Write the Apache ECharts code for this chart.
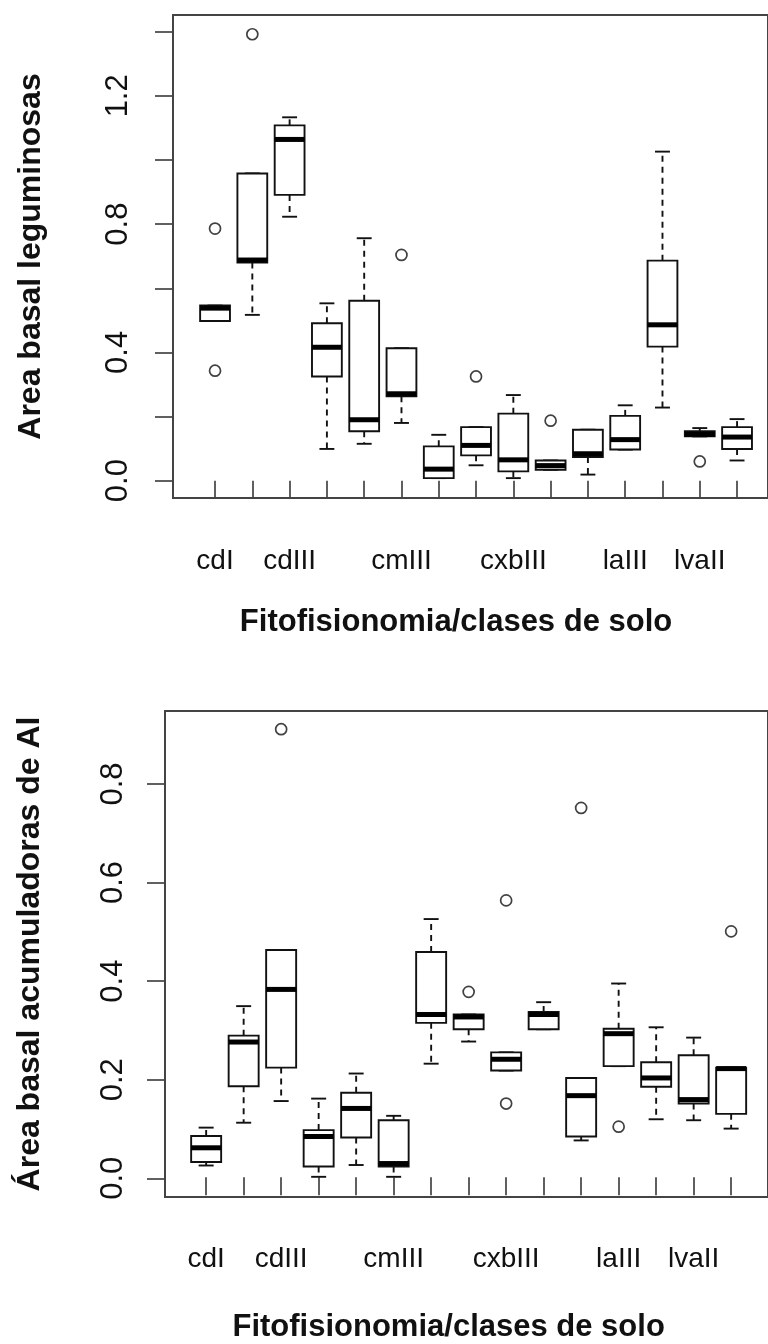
<!DOCTYPE html>
<html>
<head>
<meta charset="utf-8">
<script src="https://cdn.jsdelivr.net/npm/echarts@6/dist/echarts.min.js"></script>
<style>
  html, body { margin: 0; padding: 0; background: #ffffff; }
  #chart { width: 768px; height: 1344px; }
</style>
</head>
<body>
<div id="chart"></div>
<script>
// Vegetation type / soil class groups (x axis)
const categories = ['cdI', 'cdII', 'cdIII', 'cmI', 'cmII', 'cmIII', 'cxbI', 'cxbII', 'cxbIII',
                    'laI', 'laII', 'laIII', 'lvaI', 'lvaII', 'lvaIII'];
// group names that get a printed label under their tick
const labelledCategories = ['cdI', 'cdIII', 'cmIII', 'cxbIII', 'laIII', 'lvaII'];

// Basal area of legumes: [lower whisker, Q1, median, Q3, upper whisker] per group
const leguminosasStats = [
  [0.498, 0.498, 0.538, 0.546, 0.546],
  [0.517, 0.680, 0.688, 0.958, 0.958],
  [0.823, 0.891, 1.064, 1.108, 1.133],
  [0.099, 0.325, 0.416, 0.491, 0.553],
  [0.115, 0.154, 0.190, 0.561, 0.756],
  [0.180, 0.263, 0.271, 0.413, 0.413],
  [0.008, 0.008, 0.036, 0.107, 0.143],
  [0.048, 0.079, 0.110, 0.167, 0.167],
  [0.008, 0.029, 0.065, 0.209, 0.267],
  [0.034, 0.034, 0.047, 0.063, 0.063],
  [0.019, 0.074, 0.084, 0.159, 0.159],
  [0.097, 0.097, 0.128, 0.202, 0.235],
  [0.228, 0.418, 0.486, 0.686, 1.026],
  [0.138, 0.138, 0.145, 0.154, 0.164],
  [0.063, 0.099, 0.136, 0.167, 0.192]
];
const leguminosasOutliers = [
  ['cdI', 0.786], ['cdI', 0.343], ['cdII', 1.392], ['cmIII', 0.704],
  ['cxbII', 0.325], ['laI', 0.187], ['lvaII', 0.060]
];

// Basal area of Al-accumulating species
const alStats = [
  [0.024, 0.031, 0.060, 0.084, 0.101],
  [0.111, 0.185, 0.275, 0.288, 0.348],
  [0.155, 0.223, 0.382, 0.462, 0.462],
  [0.001, 0.022, 0.083, 0.096, 0.160],
  [0.025, 0.081, 0.140, 0.172, 0.211],
  [0.001, 0.022, 0.028, 0.116, 0.125],
  [0.231, 0.314, 0.331, 0.458, 0.525],
  [0.276, 0.301, 0.326, 0.331, 0.331],
  [0.217, 0.217, 0.240, 0.254, 0.254],
  [0.301, 0.301, 0.331, 0.336, 0.356],
  [0.075, 0.083, 0.166, 0.202, 0.202],
  [0.226, 0.226, 0.292, 0.302, 0.394],
  [0.118, 0.184, 0.202, 0.234, 0.305],
  [0.116, 0.150, 0.158, 0.248, 0.284],
  [0.099, 0.129, 0.221, 0.223, 0.223]
];
const alOutliers = [
  ['cdIII', 0.911], ['cxbII', 0.377], ['cxbIII', 0.563], ['cxbIII', 0.150],
  ['laII', 0.751], ['laIII', 0.103], ['lvaIII', 0.500]
];

// y axis ticks and the subset that carries a label
const leguminosasTicks = [0, 0.2, 0.4, 0.6, 0.8, 1.0, 1.2, 1.4];
const leguminosasTickLabels = [0, 0.4, 0.8, 1.2];
const alTicks = [0, 0.2, 0.4, 0.6, 0.8];
const alTickLabels = [0, 0.2, 0.4, 0.6, 0.8];

const INK = '#111111';
const FRAME = '#444444';
const FONT = '"Liberation Sans", Arial, sans-serif';

// Box-and-whisker glyph: dashed whiskers with staples, white box, heavy median
function renderBox(params, api) {
  const i = api.value(0);
  const x = api.coord([i, 0])[0];
  const band = api.size([1, 0])[0];
  const half = band * 0.4;
  const staple = band * 0.2;
  const yLo = api.coord([i, api.value(1)])[1];
  const yQ1 = api.coord([i, api.value(2)])[1];
  const yMed = api.coord([i, api.value(3)])[1];
  const yQ3 = api.coord([i, api.value(4)])[1];
  const yHi = api.coord([i, api.value(5)])[1];
  const lw = 1.9;
  const children = [];
  if (yQ3 - yHi > 1) {
    children.push({ type: 'line', shape: { x1: x, y1: yQ3, x2: x, y2: yHi },
      style: { stroke: INK, lineWidth: lw, lineDash: [6, 5] } });
  }
  if (yLo - yQ1 > 1) {
    children.push({ type: 'line', shape: { x1: x, y1: yQ1, x2: x, y2: yLo },
      style: { stroke: INK, lineWidth: lw, lineDash: [6, 5] } });
  }
  children.push({ type: 'line', shape: { x1: x - staple, y1: yHi, x2: x + staple, y2: yHi },
    style: { stroke: INK, lineWidth: lw } });
  children.push({ type: 'line', shape: { x1: x - staple, y1: yLo, x2: x + staple, y2: yLo },
    style: { stroke: INK, lineWidth: lw } });
  children.push({ type: 'rect', shape: { x: x - half, y: yQ3, width: 2 * half, height: yQ1 - yQ3 },
    style: { fill: '#ffffff', stroke: INK, lineWidth: lw } });
  children.push({ type: 'line', shape: { x1: x - half, y1: yMed, x2: x + half, y2: yMed },
    style: { stroke: '#000000', lineWidth: 5 } });
  return { type: 'group', children: children };
}

function boxData(stats) {
  return categories.map((c, i) => [i].concat(stats[i]));
}

function fmt(v) { return Number(v).toFixed(1); }

function panel(frameGrid, dataGrid, range, ticks, tickLabels, yName, yNameGap, labelMargin, xNameGap, xLabelMargin) {
  const labelIdx = labelledCategories.map(c => categories.indexOf(c));
  return {
    xAxis: [
      { gridIndex: frameGrid, type: 'value', min: 0, max: 1, show: false },
      {
        gridIndex: dataGrid, type: 'category', data: categories, boundaryGap: true,
        axisLine: { show: false },
        axisTick: { show: true, alignWithLabel: true, interval: 0, length: 18,
                    lineStyle: { color: FRAME, width: 1.7 } },
        axisLabel: { interval: (idx) => labelIdx.indexOf(idx) >= 0, margin: xLabelMargin,
                     fontSize: 28, color: INK, fontFamily: FONT, hideOverlap: false },
        splitLine: { show: false },
        name: 'Fitofisionomia/clases de solo', nameLocation: 'middle', nameGap: xNameGap,
        nameTextStyle: { fontSize: 31, fontWeight: 'bold', color: INK, fontFamily: FONT,
                         padding: [0, 40, 0, 0] }
      }
    ],
    yAxis: [
      {
        gridIndex: frameGrid, type: 'value', min: range[0], max: range[1],
        axisLine: { show: false },
        axisTick: { show: true, length: 18, customValues: ticks,
                    lineStyle: { color: FRAME, width: 1.7 } },
        axisLabel: { customValues: tickLabels, formatter: fmt, rotate: 90, margin: labelMargin,
                     fontSize: 31, color: INK, fontFamily: FONT },
        splitLine: { show: false },
        name: yName, nameLocation: 'middle', nameGap: yNameGap, nameRotate: 90,
        nameTextStyle: { fontSize: 32, fontWeight: 'bold', color: INK, fontFamily: FONT }
      },
      { gridIndex: dataGrid, type: 'value', min: range[0], max: range[1], show: false }
    ]
  };
}

const upperPanel = panel(0, 1, [-0.054, 1.452], leguminosasTicks, leguminosasTickLabels,
                  'Area basal leguminosas', 126, 39, 109, 49);
const lowerPanel = panel(2, 3, [-0.038, 0.948], alTicks, alTickLabels,
                     'Área basal acumuladoras de Al', 119, 36, 116, 49);

const frameStyle = { show: true, borderColor: FRAME, borderWidth: 2, backgroundColor: 'transparent' };

const option = {
  backgroundColor: '#ffffff',
  animation: false,
  grid: [
    Object.assign({ left: 173, top: 15, width: 605, height: 483 }, frameStyle),
    { left: 196.4, top: 15, width: 559.3, height: 483 },
    Object.assign({ left: 165, top: 711, width: 608, height: 486 }, frameStyle),
    { left: 187.4, top: 711, width: 562.5, height: 486 }
  ],
  xAxis: upperPanel.xAxis.concat(lowerPanel.xAxis),
  yAxis: upperPanel.yAxis.concat(lowerPanel.yAxis),
  series: [
    { type: 'custom', name: 'leguminosas', xAxisIndex: 1, yAxisIndex: 1,
      renderItem: renderBox, data: boxData(leguminosasStats), encode: { x: 0, y: [1, 2, 3, 4, 5] } },
    { type: 'scatter', name: 'leguminosas outliers', xAxisIndex: 1, yAxisIndex: 1,
      symbol: 'circle', symbolSize: 11, data: leguminosasOutliers,
      itemStyle: { color: '#ffffff', borderColor: INK, borderWidth: 1.7 } },
    { type: 'custom', name: 'Al', xAxisIndex: 3, yAxisIndex: 3,
      renderItem: renderBox, data: boxData(alStats), encode: { x: 0, y: [1, 2, 3, 4, 5] } },
    { type: 'scatter', name: 'Al outliers', xAxisIndex: 3, yAxisIndex: 3,
      symbol: 'circle', symbolSize: 11, data: alOutliers,
      itemStyle: { color: '#ffffff', borderColor: INK, borderWidth: 1.7 } }
  ]
};

const chart = echarts.init(document.getElementById('chart'), null, { renderer: 'canvas' });
chart.setOption(option);
</script>
</body>
</html>
